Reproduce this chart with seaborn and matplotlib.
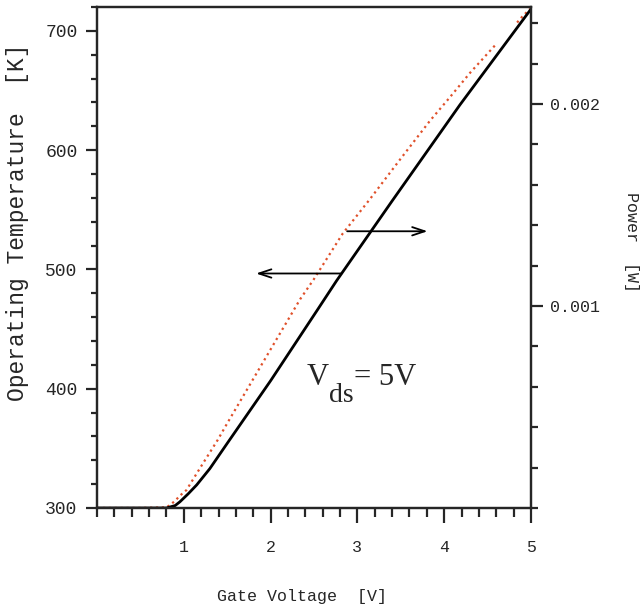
import seaborn as sns
import matplotlib.pyplot as plt
import pandas as pd
from matplotlib.ticker import MultipleLocator

# Operating temperature vs gate voltage (left axis, red dotted)
temp_vg = [0.0, 0.5, 0.80, 0.84, 0.90, 0.95, 1.03, 1.2, 1.39, 1.5, 2.0, 2.34, 2.5,
           2.83, 3.145, 3.5, 3.84, 4.05, 4.3, 4.6]
temp_k = [300, 300, 300.5, 302.5, 306, 310, 315, 335, 357, 371, 433, 475, 492,
          530, 559, 593, 625, 643, 665, 689]
# short extra piece of the temperature trace near the top corner
tail_vg = [4.84, 4.9, 4.99]
tail_k = [707, 712, 718.5]

# Power vs gate voltage (right axis, black solid)
power_vg = [0.0, 0.5, 0.80, 0.9, 0.956, 1.05, 1.148, 1.3, 1.5, 2.0, 2.546, 2.76,
            3.4, 4.18, 5.0]
power_w = [0, 0, 0, 0.000012, 0.000031, 0.00007, 0.000114, 0.000195, 0.00032,
           0.00063, 0.000985, 0.001125, 0.00152, 0.001995, 0.00247]

temp_df = pd.DataFrame({'vg': temp_vg, 'T': temp_k})
tail_df = pd.DataFrame({'vg': tail_vg, 'T': tail_k})
power_df = pd.DataFrame({'vg': power_vg, 'P': power_w})

sns.set_style('ticks')
plt.rcParams['font.family'] = ['Liberation Mono', 'DejaVu Sans']

fig = plt.figure(figsize=(6.43, 6.11), dpi=100)
ax = fig.add_axes([0.1509, 0.1686, 0.6749, 0.8199])
ax2 = ax.twinx()

red = '#e0502a'
sns.lineplot(x='vg', y='T', data=temp_df, ax=ax, color=red, linestyle=':', linewidth=1.6)
sns.lineplot(x='vg', y='T', data=tail_df, ax=ax, color=red, linestyle=':', linewidth=1.6)
sns.lineplot(x='vg', y='P', data=power_df, ax=ax2, color='black', linewidth=2.0)

ax.set_xlim(0, 5)
ax.set_ylim(300, 720)
ax2.set_ylim(0, 0.00248)

# ticks
ax.xaxis.set_minor_locator(MultipleLocator(0.2))
ax.yaxis.set_minor_locator(MultipleLocator(20))
ax2.yaxis.set_minor_locator(MultipleLocator(0.0002))
ax.set_xticks([1, 2, 3, 4, 5])
ax.set_yticks([300, 400, 500, 600, 700])
ax2.set_yticks([0.001, 0.002])
ax2.set_yticklabels(['0.001', '0.002'])

ax.tick_params(axis='x', which='major', direction='out', length=11, width=1.6,
               pad=12, labelsize=12)
ax.tick_params(axis='x', which='minor', direction='out', length=6.5, width=1.6)
ax.tick_params(axis='y', which='major', direction='out', length=8, width=1.6,
               pad=6, labelsize=13)
ax.tick_params(axis='y', which='minor', direction='out', length=4.5, width=1.6)
ax2.tick_params(axis='y', which='major', direction='out', length=8.5, width=1.6,
                pad=5, labelsize=12)
ax2.tick_params(axis='y', which='minor', direction='out', length=5, width=1.6)

for a in (ax, ax2):
    for s in a.spines.values():
        s.set_linewidth(1.6)
        s.set_visible(True)

# labels
ax.set_xlabel('Gate Voltage  [V]', fontsize=12)
ax.xaxis.set_label_coords(0.472, -0.162)
ax.set_ylabel('Operating Temperature  [K]', fontsize=16.5)
ax.yaxis.set_label_coords(-0.157, 0.571)
ax2.set_ylabel('Power  [W]', fontsize=12, rotation=-90, va='bottom')
ax2.yaxis.set_label_coords(1.215, 0.531)

# arrows pointing to the matching axis
ax.annotate('', xy=(1.8, 496.6), xytext=(2.85, 496.6),
            arrowprops=dict(arrowstyle='->,head_length=0.9,head_width=0.3', lw=1.3, color='black'))
ax.annotate('', xy=(3.84, 532), xytext=(2.85, 532),
            arrowprops=dict(arrowstyle='->,head_length=0.9,head_width=0.3', lw=1.3, color='black'))

# V_ds annotation
ax.text(2.41, 403, 'V', fontsize=22, family='Liberation Serif', va='baseline', ha='left')
ax.text(2.67, 389, 'ds', fontsize=20, family='Liberation Serif', va='baseline', ha='left')
ax.text(2.96, 403, '= 5V', fontsize=22, family='Liberation Serif', va='baseline', ha='left')

plt.savefig('out.png', dpi=100)
